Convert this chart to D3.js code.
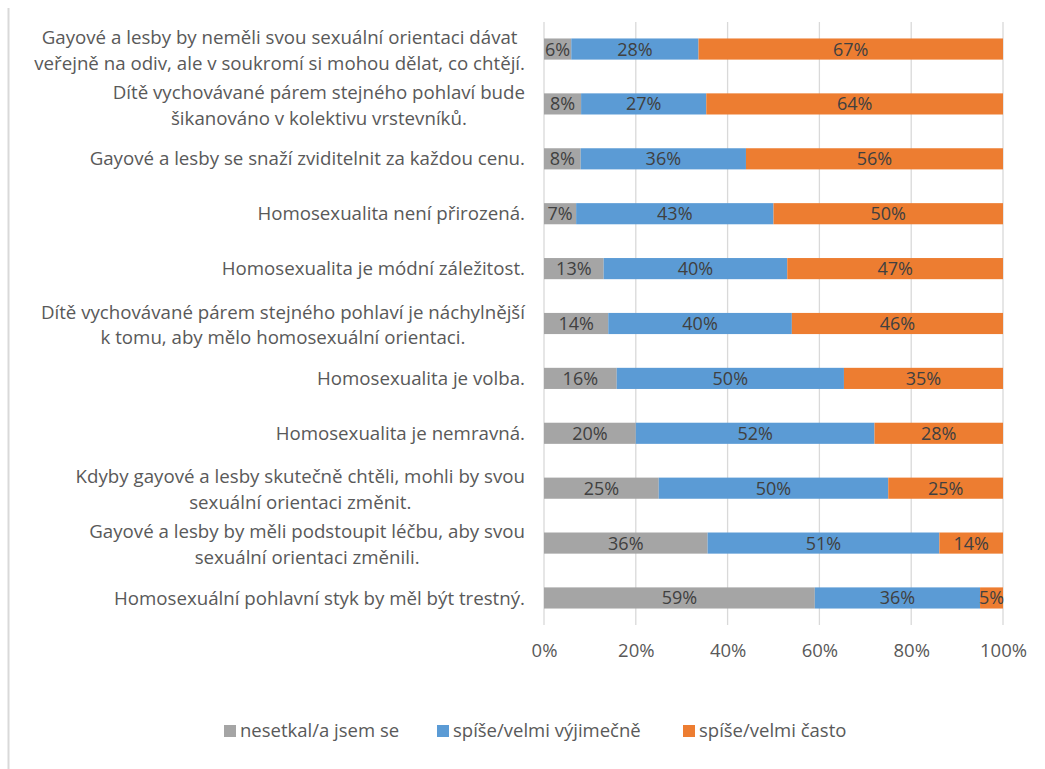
<!DOCTYPE html>
<html>
<head>
<meta charset="utf-8">
<script src="https://cdn.jsdelivr.net/npm/d3@7"></script>
<style>
  body { margin: 0; background: #fff; }
  svg { display: block; font-family: "Open Sans", sans-serif; }
</style>
</head>
<body>
<svg width="1045" height="769"></svg>
<script>
var categories = [
  "Gayové a lesby by neměli svou sexuální orientaci dávat|veřejně na odiv, ale v soukromí si mohou dělat, co chtějí.",
  "Dítě vychovávané párem stejného pohlaví bude|šikanováno v kolektivu vrstevníků.",
  "Gayové a lesby se snaží zviditelnit za každou cenu.",
  "Homosexualita není přirozená.",
  "Homosexualita je módní záležitost.",
  "Dítě vychovávané párem stejného pohlaví je náchylnější|k tomu, aby mělo homosexuální orientaci.",
  "Homosexualita je volba.",
  "Homosexualita je nemravná.",
  "Kdyby gayové a lesby skutečně chtěli, mohli by svou|sexuální orientaci změnit.",
  "Gayové a lesby by měli podstoupit léčbu, aby svou|sexuální orientaci změnili.",
  "Homosexuální pohlavní styk by měl být trestný."
];
var seriesNames = ["nesetkal/a jsem se", "spíše/velmi výjimečně", "spíše/velmi často"];
var nesetkal = [6, 8, 8, 7, 13, 14, 16, 20, 25, 36, 59];
var vyjimecne = [28, 27, 36, 43, 40, 40, 50, 52, 50, 51, 36];
var casto = [67, 64, 56, 50, 47, 46, 35, 28, 25, 14, 5];
var ticks = [0, 0.2, 0.4, 0.6, 0.8, 1];

var colors = ["#a5a5a5", "#5b9bd5", "#ed7d31"];

var svg = d3.select("svg");

var rows = categories.map(function(c, i) {
  return { cat: c, s0: nesetkal[i], s1: vyjimecne[i], s2: casto[i] };
});

var stack = d3.stack()
  .keys(["s0", "s1", "s2"])
  .offset(d3.stackOffsetExpand);
var layers = stack(rows);

var x = d3.scaleLinear().domain([0, 1]).range([544, 1003]);
var y = d3.scaleBand().domain(categories).range([22, 625]).paddingInner(0.615).paddingOuter(0.3);

// frame left edge
svg.append("line")
  .attr("x1", 8.5).attr("x2", 8.5)
  .attr("y1", 8).attr("y2", 769)
  .attr("stroke", "#d9d9d9").attr("stroke-width", 2);

// gridlines
svg.append("g")
  .selectAll("line")
  .data(ticks).enter()
  .append("line")
  .attr("x1", function(d) { return x(d); })
  .attr("x2", function(d) { return x(d); })
  .attr("y1", 22).attr("y2", 625)
  .attr("stroke", "#d9d9d9").attr("stroke-width", 1.3);

// bars
var layerG = svg.append("g")
  .selectAll("g")
  .data(layers).enter()
  .append("g")
  .attr("fill", function(d, i) { return colors[i]; });

layerG.selectAll("rect")
  .data(function(d) { return d; }).enter()
  .append("rect")
  .attr("x", function(d) { return x(d[0]); })
  .attr("y", function(d) { return y(d.data.cat); })
  .attr("width", function(d) { return x(d[1]) - x(d[0]); })
  .attr("height", y.bandwidth());

// data labels
layerG.each(function(layer, li) {
  d3.select(this).selectAll("text")
    .data(layer).enter()
    .append("text")
    .attr("x", function(d) { return (x(d[0]) + x(d[1])) / 2; })
    .attr("y", function(d) { return y(d.data.cat) + y.bandwidth() / 2; })
    .attr("dy", "0.36em")
    .attr("text-anchor", "middle")
    .attr("fill", "#404040")
    .style("font-size", "18px")
    .text(function(d) { return d.data[layer.key] + "%"; });
});

// x axis
var xAxis = d3.axisBottom(x)
  .tickValues(ticks)
  .tickFormat(d3.format(".0%"))
  .tickSize(0)
  .tickPadding(0);
var ax = svg.append("g")
  .attr("transform", "translate(0,644)")
  .call(xAxis);
ax.select(".domain").remove();
ax.selectAll("text")
  .attr("fill", "#595959")
  .style("font-size", "18.5px")
  .style("font-family", "Open Sans, sans-serif");

// category labels
var labelRight = 525;
var lineH = 25.5;
var catG = svg.append("g");
categories.forEach(function(c) {
  var lines = c.split("|");
  var cy = y(c) + y.bandwidth() / 2 + (lines.length > 1 ? 1.5 : 0);
  var t = catG.append("text")
    .attr("fill", "#595959")
    .style("font-size", "18.7px");
  lines.forEach(function(l, k) {
    t.append("tspan")
      .attr("y", cy + (k - (lines.length - 1) / 2) * lineH)
      .attr("dy", "0.35em")
      .text(l);
  });
  var maxW = 0;
  t.selectAll("tspan").each(function() {
    maxW = Math.max(maxW, this.getComputedTextLength());
  });
  if (lines.length === 1) {
    t.attr("text-anchor", "end");
    t.selectAll("tspan").attr("x", labelRight);
  } else {
    t.attr("text-anchor", "middle");
    t.selectAll("tspan").attr("x", labelRight - maxW / 2);
  }
});

// legend
var legendX = [224, 437, 683];
var leg = svg.append("g")
  .selectAll("g")
  .data(seriesNames).enter()
  .append("g")
  .attr("transform", function(d, i) { return "translate(" + legendX[i] + ",731)"; });
leg.append("rect")
  .attr("x", 0).attr("y", -6)
  .attr("width", 12).attr("height", 12)
  .attr("fill", function(d, i) { return colors[i]; });
leg.append("text")
  .attr("x", 16)
  .attr("dy", "0.35em")
  .attr("fill", "#595959")
  .style("font-size", "18.5px")
  .text(function(d) { return d; });
</script>
</body>
</html>
